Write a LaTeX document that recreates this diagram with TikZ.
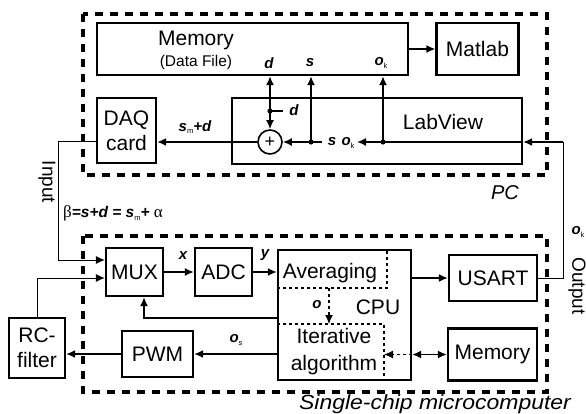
\documentclass[tikz,border=0pt]{standalone}
\usepackage{fontspec}
\setmainfont{Liberation Sans}
\newfontfamily\greekfont{Liberation Serif}
\usetikzlibrary{arrows.meta}
\def\idx#1{\raisebox{-0.35ex}{\fontsize{7.5}{7.5}\selectfont\mdseries\upshape #1}}
\def\tip{Latex[length=9pt,width=8pt]}

\begin{document}
\begin{tikzpicture}[x=1pt,y=-1pt,
    box/.style={draw,line width=2.3pt,align=center,inner sep=0pt,
      font=\fontsize{21}{25}\selectfont},
    txt/.style={inner sep=0pt,font=\fontsize{21}{21}\selectfont},
    lbl/.style={inner sep=0pt,font=\fontsize{15}{15}\selectfont\bfseries\itshape},
    conn/.style={line width=1.6pt,-{\tip}},
    wire/.style={line width=1pt},
    region/.style={line width=3.5pt,dash pattern=on 8pt off 7pt},
    part/.style={line width=1.1pt,dash pattern=on 3pt off 3pt}]
  \useasboundingbox (0,0) rectangle (586,414);

  % PC
  \draw[region] (83,14) rectangle (547,175);
  \node[txt,font=\fontsize{20}{20}\selectfont\itshape] (pc) at (505,193) {PC};
  \node[box,minimum width=311pt,minimum height=52pt] (mem) at (252.5,49) {};
  \node[txt] (memt) at (196,40) {Memory};
  \node[txt,font=\fontsize{15.5}{15.5}\selectfont] (memf) at (196,62) {(Data File)};
  \node[box,minimum width=82pt,minimum height=52pt] (mat) at (477.5,49) {Matlab};
  \node[box,minimum width=59pt,minimum height=65pt] (daq) at (126.5,130.5) {DAQ\\card};
  \node[box,minimum width=290pt,minimum height=66pt] (lab) at (377,131) {};
  \node[txt] (labt) at (443,122) {LabView};
  \node[draw,circle,line width=1.6pt,minimum size=24pt,inner sep=0pt,
    font=\fontsize{18}{18}\selectfont] (sum) at (270,142) {+};

  \coordinate (jd) at (270,111);
  \coordinate (js) at (311,142);
  \coordinate (jo) at (383,142);
  \coordinate (okend) at (357,142);
  \coordinate (outx) at (563,142);

  \draw[conn] (mem.east) -- (mat.west);
  \draw[line width=1.6pt,{\tip}-{\tip}] (sum.north) -- (sum.north |- mem.south);
  \draw[line width=1.6pt] (jd) -- ++(13,0);
  \fill (jd) circle (2.6pt);
  \draw[conn] (js) -- (js |- mem.south);
  \draw[conn] (js) -- (sum.east);
  \draw[line width=1.6pt] (js) -- ++(11,0);
  \fill (js) circle (2.6pt);
  \draw[conn] (jo) -- (jo |- mem.south);
  \draw[conn] (jo) -- (okend);
  \draw[line width=1.6pt] (jo) -- (lab.east |- jo);
  \fill (jo) circle (2.6pt);
  \draw[conn] (sum.west) -- (daq.east |- sum);

  \node[lbl] (ld1) at (269,63) {d};
  \node[lbl] (ls1) at (310,63) {s};
  \node[lbl] (lo1) at (381,63) {o\idx{k}};
  \node[lbl] (ld2) at (294,110) {d};
  \node[lbl] (ls2) at (332,142) {s};
  \node[lbl] (lo2) at (348,143) {o\idx{k}};
  \node[lbl] (lsm) at (195,127) {s\idx{m}+d};

  % microcomputer
  \draw[region] (83,236) rectangle (547,392);
  \node[txt,anchor=base,font=\fontsize{20.5}{20.5}\selectfont\itshape] (mc) at (435,409)
    {\scalebox{1.12}[1]{Single-chip microcomputer}};
  \node[box,minimum width=57pt,minimum height=48pt] (mux) at (134.5,272) {MUX};
  \node[box,minimum width=57pt,minimum height=48pt] (adc) at (223.5,272) {ADC};
  \node[box,minimum width=133pt,minimum height=130pt] (cpu) at (344.5,315) {};
  \node[box,minimum width=88pt,minimum height=46pt] (usart) at (493,278) {USART};
  \node[box,minimum width=89pt,minimum height=52pt] (mem2) at (492.5,354.5) {Memory};
  \node[box,minimum width=71pt,minimum height=46pt] (pwm) at (157.5,354) {PWM};
  \node[box,minimum width=56pt,minimum height=60pt] (rc) at (37,348) {RC-\\filter};

  \node[txt] (avg) at (330,273) {Averaging};
  \node[txt] (cput) at (378,307) {CPU};
  \node[txt,align=center,font=\fontsize{21}{27}\selectfont] (itr) at (334,352) {Iterative\\algorithm};
  \node[lbl] (lo) at (317,305) {o};

  \coordinate (avc) at (387,288);
  \coordinate (itc) at (384,324);
  \coordinate (oa) at (329,288);
  \draw[part] (cpu.west |- avc) -- (avc) -- (avc |- cpu.north);
  \draw[part] (cpu.west |- itc) -- (itc) -- (itc |- cpu.south);
  \draw[part,-{\tip}] (oa) -- (oa |- itc);

  \coordinate (inx) at (58,260);
  \coordinate (rcy) at (0,278);
  \coordinate (fb) at (144,318);
  \draw[wire,-{\tip}] (daq.west |- sum) -| (inx) -- (inx -| mux.west);
  \draw[wire,-{\tip}] (rc.north) |- (mux.west |- rcy);
  \draw[conn] (mux) -- (adc);
  \draw[conn] (adc.east) -- (adc.east -| cpu.west);
  \draw[conn] (cpu.west |- fb) -- (fb) -- (fb |- mux.south);
  \draw[conn] (cpu.west |- pwm) -- (pwm.east);
  \draw[conn] (pwm.west) -- (pwm.west -| rc.east);
  \draw[conn] (cpu.east |- usart) -- (usart.west);
  \draw[line width=1.6pt,{\tip}-{\tip}] (cpu.east |- mem2) -- (mem2.west);
  \draw[part,-{\tip}] (cpu.east |- mem2) -- (itc |- mem2);
  \draw[wire] (usart.east) -| (outx);
  \draw[conn] (outx) -- (lab.east |- outx);

  \node[lbl] (lx) at (183,256) {x};
  \node[lbl] (ly) at (265,255) {y};
  \node[lbl] (los) at (236,340) {o\idx{s}};
  \node[lbl] (lok) at (578,232) {o\idx{k}};
  \node[txt,rotate=-90,font=\fontsize{19}{19}\selectfont] (inp) at (47,182) {Input};
  \node[txt,rotate=-90,font=\fontsize{19}{19}\selectfont] (outp) at (577,286) {Output};
  \node[lbl,anchor=west,font=\fontsize{15.5}{15.5}\selectfont\bfseries\itshape] (beta) at (63,213)
    {{\greekfont\mdseries\upshape\fontsize{17}{17}\selectfont β}=s+d = s\idx{m}+ {\greekfont\mdseries\upshape\fontsize{17}{17}\selectfont α}};
\end{tikzpicture}
\end{document}
